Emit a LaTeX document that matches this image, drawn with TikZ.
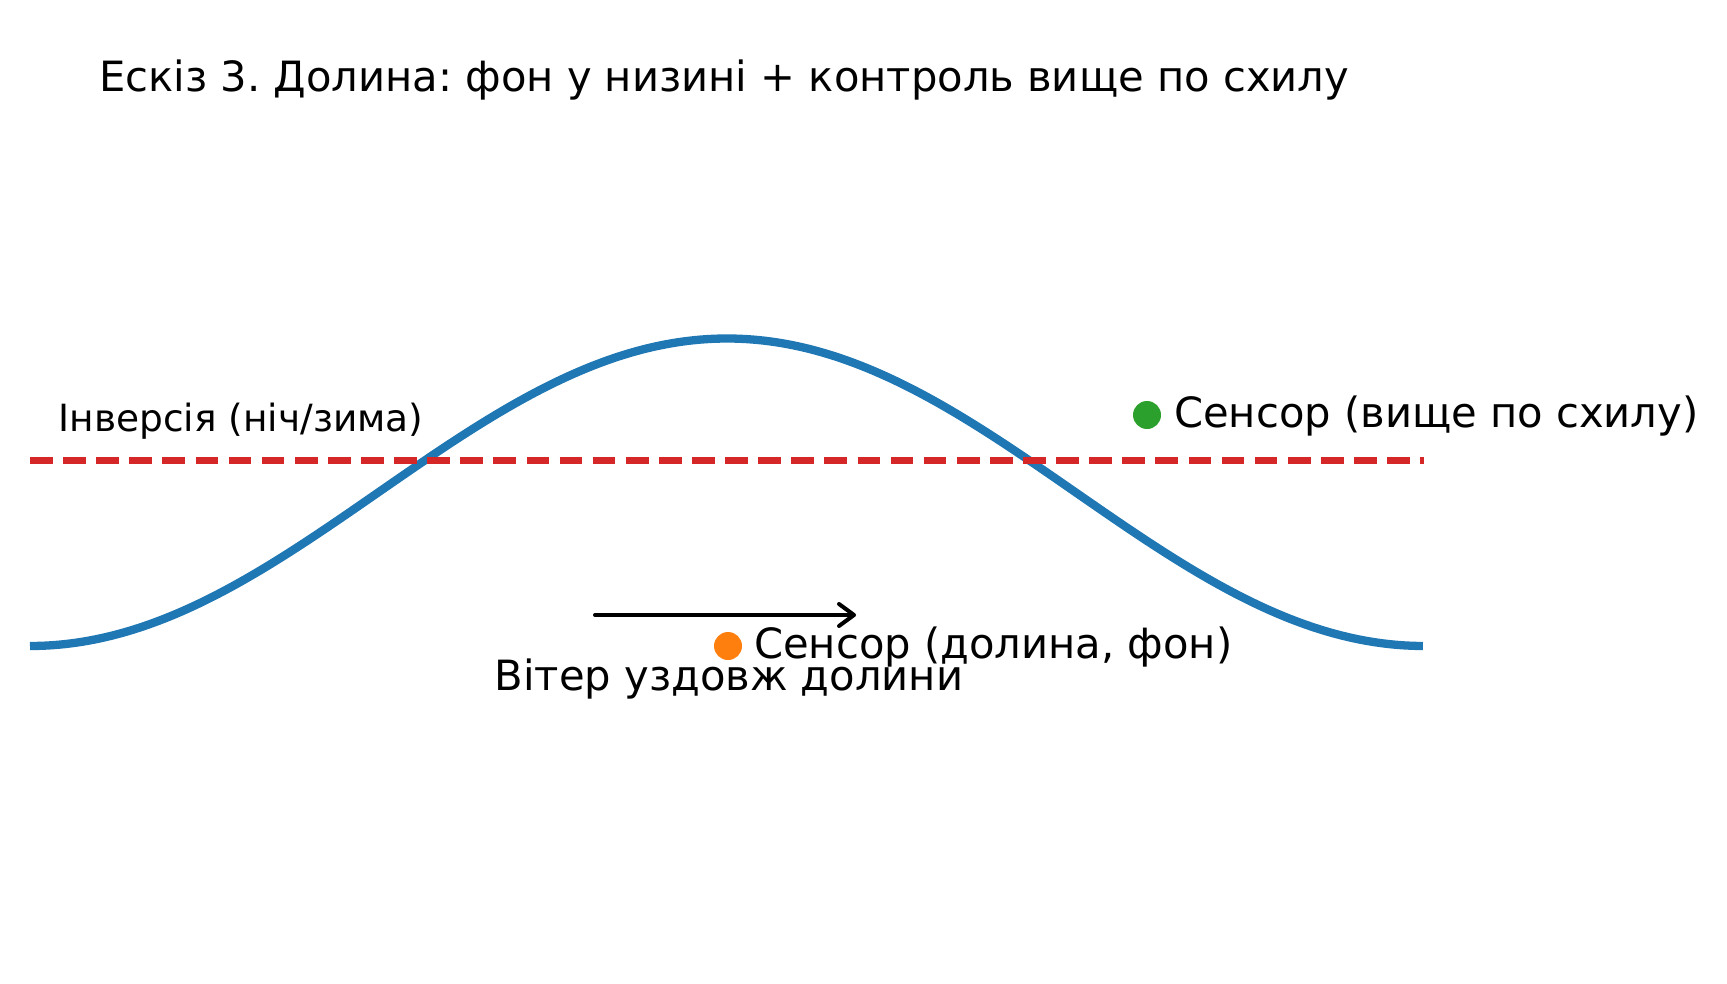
\documentclass[tikz,border=0pt]{standalone}
\usepackage{fontspec}
\setmainfont{DejaVu Sans}
\usetikzlibrary{arrows.meta}
\frenchspacing
\definecolor{mblue}{HTML}{1F77B4}
\definecolor{mred}{HTML}{D62728}
\definecolor{mgreen}{HTML}{2CA02C}
\definecolor{morange}{HTML}{FF7F0E}
\tikzset{
  bigtext/.style={inner sep=0pt, font=\fontsize{41.67}{50}\selectfont},
  midtext/.style={inner sep=0pt, font=\fontsize{37.5}{45}\selectfont},
  sensordot/.style={circle, inner sep=0pt, minimum size=28pt, draw=none},
  valley/.style={draw=mblue, line width=8.3pt},
  inversion/.style={draw=mred, line width=6.5pt, dash pattern=on 22.7pt off 10.4pt},
  windarrow/.style={draw=black, line width=4pt, line cap=round,
    -{Straight Barb[length=15pt,width=22pt,line width=4pt,round]}}
}
\begin{document}
\begin{tikzpicture}[x=1pt,y=-1pt]
\useasboundingbox (0,0) rectangle (1727,984);
% title
\node[bigtext, anchor=base west] (title) at (99,92) {Ескіз 3. Долина: фон у низині + контроль вище по схилу};
% terrain profile
\draw[valley] plot[domain=0:1, samples=240, variable=\t] ({30+1394*\t},{646-307.5*(1-cos(360*\t))/2});
% inversion line
\coordinate (invL) at (30,460.5);
\coordinate (invR) at (1424,460.5);
\draw[inversion] (invL) -- (invR);
\node[midtext, anchor=base west] (invlabel) at (58.5,431) {Інверсія (ніч/зима)};
% sensors
\node[sensordot, fill=mgreen] (upper) at (1147,415) {};
\node[bigtext, anchor=base west] (upperlabel) at (1174,427) {Сенсор (вище по схилу)};
\node[sensordot, fill=morange] (lower) at (728,646) {};
\node[bigtext, anchor=base west] (lowerlabel) at (754,658) {Сенсор (долина, фон)};
% wind
\coordinate (windA) at (595,615);
\coordinate (windB) at (856,615);
\draw[windarrow] (windA) -- (windB);
\node[bigtext, anchor=base] (windlabel) at (729,690) {Вітер уздовж долини};
\end{tikzpicture}
\end{document}
